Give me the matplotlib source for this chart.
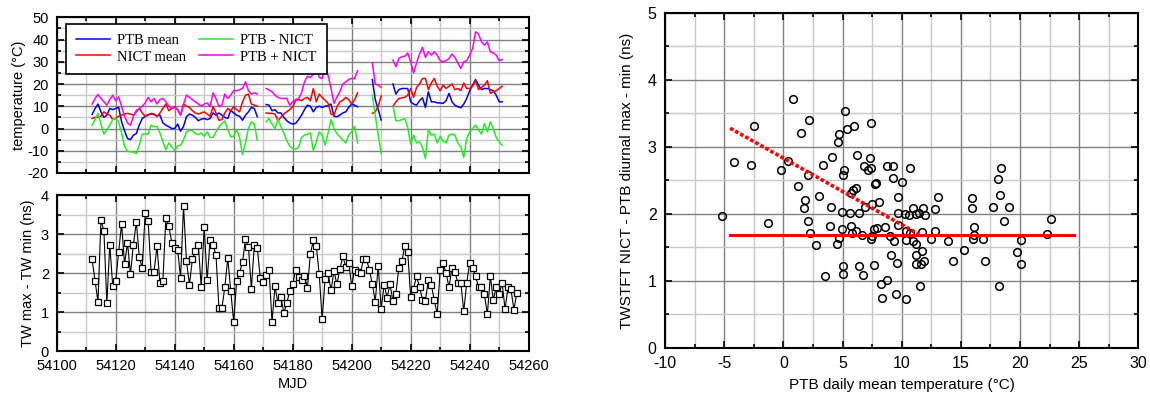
import numpy as np
import matplotlib
matplotlib.use("Agg")
import matplotlib.pyplot as plt
from matplotlib.ticker import MultipleLocator

plt.rcParams['font.family'] = ['Liberation Sans', 'DejaVu Sans']
plt.rcParams['axes.unicode_minus'] = False

nan = float('nan')

# daily temperatures, MJD 54112 .. 54251 (nan = no data)
mjd_temp = np.arange(54112, 54252)
ptb_mean = [6.3, 9, 11, 7.5, 5, 6, 9, 8.5, 9, 9.5, 3, -1, -4.5, -5, -3, -2.3, 1.5, 4.5, 5.5, 6.3,
            6.5, 6.3, 5.7, 6, 2.5, 1.5, 0.8, 0, 0, 2, -1.2, 1, 5.3, 6.5, 6, 5, 3.5, 4.2, 4.5, 4,
            4.5, 7, 6, 7, 6, 5, 4.5, 8.2, 7, 6, 5.5, 3.7, 6, 7.5, 9.5, 9, 5.3,
            nan, nan,
            10.8, 10.5, 8, 8.5, 7, 7, 5, 3.5, 2.5, 2, 2.3, 4, 6, 8.5, 10.5, 10, 7.5, 9.5, 10, 9.5,
            10, 10.3, 11, 5.5, 5.3, 6, 7, 7.5, 9.5, 11, 10.5, 9.8,
            nan, nan, nan, nan,
            22, 13, 8.5, 3.8,
            nan, nan, nan,
            20, 15.5, 17.5, 18, 18, 18, 12, 11, 10.5, 12.5, 13.8, 9.5, 16.5, 12, 12, 11.5, 11.5,
            11.3, 12.5, 15.8, 12, 10.5, 9.8, 9.3, 11, 13.5, 17, 19.5, 22, 19.5, 17.5, 18, 18,
            17.5, 17, 15, 12, 12]
nict_mean = [4.5, 5, 5, 5.5, 7.5, 6.5, 6, 4, 4.5, 5.5, 6, 6.5, 6.8, 6.5, 6, 7.5, 9, 7, 5.5, 6,
             6.8, 6.5, 5.3, 7, 9, 11, 8, 9, 9.8, 8.5, 6, 11, 10, 9.5, 8, 7, 6.5, 7, 7.5, 6.5,
             5.5, 9.8, 7, 3.7, 4, 7, 9, 8, 9.8, 8.5, 7.5, 12, 15, 15.5, 11, 10.5, 10,
             nan, nan,
             7, 6.8, 6.8, 6.5, 3.5, 5, 6.5, 7.5, 8.5, 9.8, 12.5, 13, 12.5, 13.5, 14, 12.5, 18, 12,
             15.5, 14, 12.7, 11.3, 6.5, 6, 9.8, 12, 12.7, 14, 13, 11, 13, 16,
             nan, nan, nan, nan,
             6.8, 7.5, 10, 14.6,
             nan, nan, nan,
             10, 12, 13.5, 13.8, 14, 15, 18, 14, 18.5, 20, 22.5, 22.5, 17.5, 20.5, 22.5, 19, 17,
             19.5, 18, 19, 20, 17.5, 18, 17, 20.5, 18, 18, 19, 21.5, 17.5, 18.5, 19.5, 21.5, 15.8,
             16.5, 17, 18, 19]
ptb_minus_nict = [1.5, 4, 6.8, 2, -2.5, -0.5, 1.5, 4, 4.5, 3, -2, -8, -10.3, -10.5, -10.5, -11.3,
                  -7.5, -2.5, -2.5, -2.5, 1.5, 0.8, 1, -2, -6, -9.5, -6.5, -8.3, -9.8, -7.8, -7.5,
                  -5, -1.5, -0.7, -1, -2.3, -2.8, -2, -3.5, -1.5, -4, -4, -1.5, 0.7, 2.2, 3.4,
                  -0.5, -3.8, -3.5, -0.5, -4, -11.7, -6.5, 0, 3, 2, -5.3,
                  nan, nan,
                  3, 4.5, 2, 0, 4, 1, -2, -5.5, -8, -9, -9.3, -8.5, -4, -3, -2.5, -2, -10, -6,
                  -1.5, -3, -7.5, -2, 4, 0, -2.3, -3.8, -5.3, -6.5, -3, -1.5, 1, -6.5,
                  nan, nan, nan, nan,
                  15, 6, -3, -11.3,
                  nan, nan, nan,
                  10, 3.5, 3.5, 4, 4.5, 0.5, -7, -3, -6.5, -6, -8.5, -13.5, -0.5, -3, -2.5, -6.5,
                  -3.5, -5.8, -6.5, -3, -2.5, -3, -6.5, -8.3, -13, -4.5, -1.5, 0, 1.5, -0.5, -2.5,
                  2.2, -1.5, 3, 0, -4, -6, -7.5]
ptb_plus_nict = [11, 13.5, 15.3, 13.5, 12, 10.5, 13, 15, 12.5, 14.2, 10, 5.5, 2.5, 1.5, 5.5, 8.2,
                 9, 10, 11.5, 14, 12, 13.5, 11, 13, 13.5, 12, 10, 9, 9.5, 8.5, 6, 11, 15, 14, 13,
                 12, 11, 10, 11, 11.5, 9.8, 16, 13.5, 9.8, 10.5, 15.5, 13.5, 15, 17, 17, 17.5, 18,
                 21, 17, 15.5, 16, 15.5,
                 nan, nan,
                 18, 17.3, 16.5, 15, 14, 13.5, 13.5, 13.5, 10.5, 12, 13, 13.5, 16, 21, 23.5, 23,
                 24.5, 27.8, 23, 22.5, 27.8, 24, 18, 11.3, 14.2, 16.5, 20, 21, 22, 22.5, 22.5, 26,
                 nan, nan, nan, nan,
                 29.6, 20, 19.5, 18.5,
                 nan, nan, nan,
                 30.8, 27.8, 31.5, 32.3, 32.5, 34, 30, 25, 29.5, 33.5, 36.5, 32, 34.5, 33, 34.5,
                 33, 30.5, 30, 30.5, 31.5, 33.5, 32, 29.5, 27, 30, 30.5, 33, 36, 43.5, 42.5, 39,
                 37.5, 39, 34.5, 34, 33, 30.5, 31]

# TW max - TW min, MJD 54112 .. 54256
mjd_tw = np.arange(54112, 54257)
tw_range = [2.35, 1.8, 1.26, 3.36, 3.08, 1.23, 2.73, 1.66, 1.8, 2.54, 3.27, 2.22, 2.78, 1.97,
            2.73, 3.31, 2.42, 2.12, 3.55, 3.33, 2.03, 2.03, 2.69, 1.75, 1.79, 3.41, 3.21, 2.78,
            2.65, 2.59, 1.88, 3.72, 2.3, 1.7, 2.35, 2.57, 2.73, 1.64, 3.19, 1.82, 2.84, 2.72,
            2.47, 1.1, 1.1, 1.64, 2.39, 1.54, 0.75, 1.79, 2.01, 2.28, 2.88, 2.67, 1.6, 2.72,
            2.65, 1.88, 1.77, 1.94, 2.07, 0.75, 1.66, 1.23, 1.39, 0.98, 1.23, 1.53, 1.71, 2.09,
            1.9, 1.83, 1.93, 1.62, 2.48, 2.84, 2.7, 1.97, 0.81, 1.86, 2.0, 1.56, 2.05, 1.71,
            2.1, 2.43, 2.16, 2.26, 1.67, 2.09, 2.02, 2.0, 2.36, 2.35, 2.09, 1.71, 1.27, 2.19,
            1.08, 1.7, 1.37, 1.71, 1.28, 1.47, 2.14, 2.3, 2.69, 2.54, 1.39, 1.6, 1.92, 1.64,
            1.32, 1.28, 1.83, 1.69, 1.32, 0.94, 2.07, 2.26, 2.0, 1.64, 2.12, 2.03, 1.75, 1.75,
            1.02, 1.75, 2.26, 2.14, 1.93, 1.63, 1.63, 1.45, 0.94, 1.92, 1.32, 1.63, 1.45, 1.75,
            1.07, 1.64, 1.58, 1.06, 1.49]

# scatter: PTB daily mean temperature vs diurnal max - min
temp_pts = [0.84, -2.47, 2.16, 1.46, 5.2, 4.72, 4.66, 5.34, 5.98, 7.44, -2.75, -0.17, 0.42, 2.1,
            3.31, 4.1, 5.14, 5.0, 6.24, 7.3, 7.39, 6.83, 7.16, 8.74, 9.27, 10.67, 9.3, 10.06,
            7.72, 7.87, 1.26, 1.8, 1.74, 3.0, 4.04, 5.9, 6.12, 5.76, 4.94, 5.62, 6.4, 6.9, 7.47,
            8.09, 9.66, 9.72, 10.25, 10.6, 10.96, 11.24, 11.5, 11.8, 12.0, 12.8, 13.1, -1.26,
            2.1, 2.25, 2.72, 3.93, 4.92, 5.73, 6.12, 5.79, 6.69, 7.47, 7.44, 7.7, 7.95, 8.57,
            8.99, 9.35, 9.69, 10.34, 10.37, 10.67, 10.96, 11.24, 11.71, 12.5, 12.78, 13.9, 4.69,
            4.55, 5.0, 5.06, 3.54, 6.4, 6.74, 7.64, 9.07, 9.61, 11.24, 11.69, 11.85, 11.66,
            11.18, 14.38, 8.23, 8.79, 11.52, 8.31, 9.49, 10.39, -5.2, -4.14, 15.98, 15.98, 18.32,
            17.75, 19.1, 18.66, 22.6, 22.32, 16.12, 16.1, 16.0, 16.9, 15.27, 17.08, 20.07, 19.73,
            20.12, 18.2, 18.4, 18.18]
diurnal_pts = [3.72, 3.31, 3.41, 3.21, 3.54, 3.19, 3.08, 3.27, 3.32, 3.36, 2.73, 2.65, 2.79, 2.58,
               2.73, 2.85, 2.65, 2.58, 2.88, 2.83, 2.69, 2.71, 2.66, 2.72, 2.71, 2.68, 2.53, 2.48,
               2.44, 2.46, 2.42, 2.21, 2.09, 2.27, 2.1, 2.36, 2.39, 2.31, 2.03, 2.01, 2.02, 2.1,
               2.15, 2.18, 2.25, 2.01, 2.0, 1.99, 2.09, 2.0, 2.01, 2.09, 1.99, 2.07, 2.25, 1.87,
               1.9, 1.71, 1.53, 1.82, 1.78, 1.82, 1.75, 1.71, 1.69, 1.67, 1.63, 1.78, 1.79, 1.8,
               1.67, 1.6, 1.84, 1.74, 1.61, 1.71, 1.6, 1.55, 1.73, 1.63, 1.74, 1.6, 1.64, 1.55,
               1.23, 1.11, 1.08, 1.23, 1.09, 1.24, 1.39, 1.27, 1.38, 1.44, 1.3, 1.26, 1.25, 1.29,
               0.96, 1.02, 0.93, 0.74, 0.81, 0.73, 1.97, 2.78, 2.24, 2.09, 2.29, 2.11, 2.11, 1.9,
               1.93, 1.7, 1.8, 1.69, 1.63, 1.63, 1.46, 1.29, 1.61, 1.43, 1.26, 0.93, 2.69, 2.52]

# fitted lines
slope_fit_x = [-4.5, 11.5]
slope_fit_y = [3.28, 1.69]
const_fit_x = [-4.5, 24.6]
const_fit_y = [1.69, 1.69]

MAJOR_GRID = '#808080'
MINOR_GRID = '#c8c8c8'


def style_axes(ax, xmaj, xmin, ymaj, ymin, size, xpad=5.5, ypad=5.5):
    ax.xaxis.set_major_locator(MultipleLocator(xmaj))
    ax.xaxis.set_minor_locator(MultipleLocator(xmin))
    ax.yaxis.set_major_locator(MultipleLocator(ymaj))
    ax.yaxis.set_minor_locator(MultipleLocator(ymin))
    ax.grid(which='minor', color=MINOR_GRID, lw=1.0, zorder=0)
    ax.grid(which='major', color=MAJOR_GRID, lw=1.0, zorder=0)
    ax.set_axisbelow(True)
    ax.tick_params(which='both', direction='in', top=True, right=True,
                   labelsize=size, width=1.2)
    ax.tick_params(axis='x', pad=xpad)
    ax.tick_params(axis='y', pad=ypad)
    ax.tick_params(which='major', length=5)
    ax.tick_params(which='minor', length=3)
    for sp in ax.spines.values():
        sp.set_linewidth(1.5)


fig = plt.figure(figsize=(11.5, 3.94), dpi=100)

# temperature panel
ax1 = fig.add_axes([0.0493, 0.561, 0.4104, 0.395])
ax1.plot(mjd_temp, ptb_mean, color='#0000ff', lw=1.1, label='PTB mean')
ax1.plot(mjd_temp, nict_mean, color='#ff0000', lw=1.1, label='NICT mean')
ax1.plot(mjd_temp, ptb_minus_nict, color='#22ee22', lw=1.1, label='PTB - NICT')
ax1.plot(mjd_temp, ptb_plus_nict, color='#ff00ff', lw=1.1, label='PTB + NICT')
ax1.set_xlim(54100, 54260)
ax1.set_ylim(-20, 50)
style_axes(ax1, 20, 10, 10, 5, 10.5)
ax1.tick_params(labelbottom=False)
ax1.set_ylabel('temperature (°C)', fontsize=10.5, labelpad=1)
leg = ax1.legend(ncol=2, loc='upper left', bbox_to_anchor=(0.02, 0.957),
                 borderaxespad=0, fancybox=False, framealpha=1, edgecolor='black',
                 prop={'family': 'Liberation Serif', 'size': 10.5},
                 handlelength=2.3, columnspacing=0.9, handletextpad=0.5,
                 borderpad=0.7, labelspacing=0.2)
leg.get_frame().set_linewidth(1.2)

# TW range panel
ax2 = fig.add_axes([0.0493, 0.109, 0.4104, 0.396])
ax2.plot(mjd_tw, tw_range, color='black', lw=0.8, marker='s', ms=5,
         mfc='white', mec='black', mew=0.9)
ax2.set_xlim(54100, 54260)
ax2.set_ylim(0, 4)
style_axes(ax2, 20, 10, 1, 0.5, 10.5)
ax2.set_ylabel('TW max - TW min (ns)', fontsize=10.5, labelpad=4)
ax2.set_xlabel('MJD', fontsize=10.5, labelpad=3)

# scatter panel
ax3 = fig.add_axes([0.5783, 0.117, 0.4115, 0.85])
ax3.plot(temp_pts, diurnal_pts, linestyle='none', marker='o', ms=5.5,
         mfc='none', mec='black', mew=1.1, zorder=3)
ax3.plot(const_fit_x, const_fit_y, color='#ff0000', lw=2.2, zorder=4)
ax3.plot(slope_fit_x, slope_fit_y, color='#ff0000', lw=2.6, linestyle=(0, (1, 0.6)),
         zorder=4)
ax3.set_xlim(-10, 30)
ax3.set_ylim(0, 5)
style_axes(ax3, 5, 2.5, 1, 0.5, 11.5, xpad=6, ypad=6)
ax3.set_xlabel('PTB daily mean temperature (°C)', fontsize=11, labelpad=5)
ax3.set_ylabel('TWSTFT NICT - PTB diurnal max - min (ns)', fontsize=11, labelpad=10)

fig.savefig('out.png', dpi=100)
